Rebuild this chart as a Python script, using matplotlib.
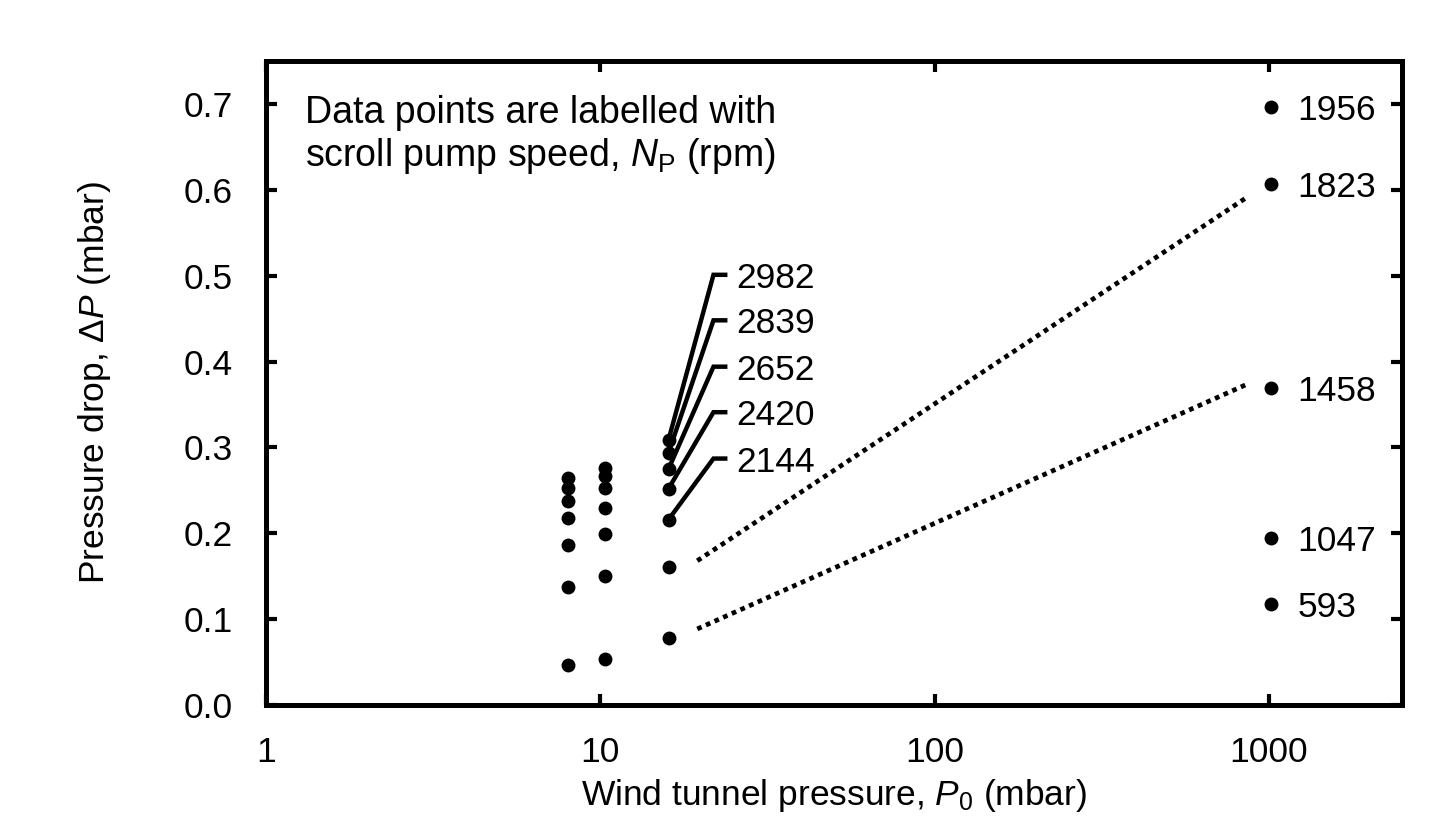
import matplotlib
matplotlib.use("Agg")
import matplotlib.pyplot as plt
from matplotlib.ticker import FixedLocator, FixedFormatter, NullLocator
import numpy as np

plt.rcParams['font.family'] = ['Liberation Sans', 'DejaVu Sans']
plt.rcParams['mathtext.fontset'] = 'custom'
plt.rcParams['mathtext.rm'] = 'Liberation Sans'
plt.rcParams['mathtext.it'] = 'Liberation Sans:italic'

# wind tunnel pressure columns (mbar) and pressure drop (mbar)
p0_low = [8.0, 10.3, 16.0]
dp_8 = [0.264, 0.253, 0.238, 0.218, 0.186, 0.137, 0.047]
dp_10 = [0.276, 0.267, 0.253, 0.230, 0.199, 0.150, 0.053]
dp_16 = [0.309, 0.294, 0.275, 0.252, 0.216, 0.161, 0.078]

# labelled points at 16 mbar (top five) and their label heights
speeds_16 = ['2982', '2839', '2652', '2420', '2144']
label_y_16 = [0.501, 0.448, 0.394, 0.341, 0.287]

# atmospheric column
p0_atm = 1013.0
dp_atm = [0.697, 0.607, 0.369, 0.195, 0.118]
speeds_atm = ['1956', '1823', '1458', '1047', '593']

# dotted guide lines (start, end)
guide_x = [19.5, 865.0]
guide_upper = [0.168, 0.592]
guide_lower = [0.0886, 0.374]

xticks = [1, 10, 100, 1000]
xticklabels = ['1', '10', '100', '1000']
yticks = [0.0, 0.1, 0.2, 0.3, 0.4, 0.5, 0.6, 0.7]

fs = 25.5

fig = plt.figure(figsize=(14.39, 8.18), dpi=100)
ax = fig.add_axes([266/1439, 1-705/818, (1402-266)/1439, (705-61)/818])

ms = 10
for x, col in zip(p0_low, [dp_8, dp_10, dp_16]):
    ax.plot([x]*len(col), col, 'o', color='black', ms=ms, mec='none')
ax.plot([p0_atm]*len(dp_atm), dp_atm, 'o', color='black', ms=ms, mec='none')

# leader lines for the 16 mbar points
elbow_x, end_x, text_x = 21.8, 24.0, 25.5
for yv, ly, lab in zip(dp_16[:5], label_y_16, speeds_16):
    ax.plot([p0_low[2], elbow_x, end_x], [yv, ly, ly], '-', color='black',
            lw=3.2, solid_capstyle='butt', solid_joinstyle='miter')
    ax.text(text_x, ly, lab, fontsize=fs, ha='left', va='center_baseline')

for yv, lab in zip(dp_atm, speeds_atm):
    ax.text(p0_atm*1.2, yv, lab, fontsize=fs, ha='left', va='center_baseline')

ax.plot(guide_x, guide_upper, color='black', lw=3.4, linestyle=(0, (1, 1)))
ax.plot(guide_x, guide_lower, color='black', lw=3.4, linestyle=(0, (1, 1)))

ax.text(0.034, 0.947, 'Data points are labelled with\nscroll pump speed, $N_\\mathrm{P}$ (rpm)',
        transform=ax.transAxes, fontsize=27, ha='left', va='top', linespacing=1.15)

ax.set_xscale('log')
ax.set_xlim(1, 2500)
ax.set_ylim(0, 0.75)
ax.xaxis.set_major_locator(FixedLocator(xticks))
ax.xaxis.set_major_formatter(FixedFormatter(xticklabels))
ax.xaxis.set_minor_locator(NullLocator())
ax.set_yticks(yticks)
ax.set_yticklabels(['%.1f' % v for v in yticks])

for s in ax.spines.values():
    s.set_linewidth(3.6)
ax.tick_params(axis='both', which='major', direction='in', length=8, width=3,
               labelsize=fs, top=True, right=True)
ax.tick_params(axis='x', pad=22)
ax.tick_params(axis='y', pad=24)

ax.set_xlabel('Wind tunnel pressure, $P_0$ (mbar)', fontsize=fs)
ax.set_ylabel('Pressure drop, Δ$P$ (mbar)', fontsize=fs)
ax.xaxis.set_label_coords(0.5, -0.112)
ax.yaxis.set_label_coords(-0.135, 0.5)

fig.savefig('out.png', dpi=100)
